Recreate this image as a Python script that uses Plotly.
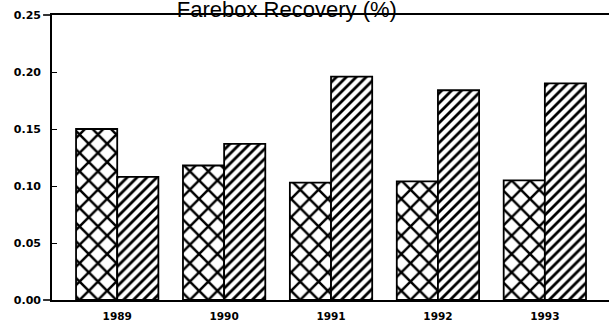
import plotly.graph_objects as go

years = ["1989", "1990", "1991", "1992", "1993"]
series_a = [0.150, 0.118, 0.103, 0.104, 0.105]   # cross-hatched bars
series_b = [0.108, 0.137, 0.196, 0.184, 0.190]   # diagonal-striped bars
y_ticks = [0.00, 0.05, 0.10, 0.15, 0.20, 0.25]
y_tick_text = ["0.00", "0.05", "0.10", "0.15", "0.20", "0.25"]

fig = go.Figure()
fig.add_trace(go.Bar(
    x=years, y=series_a,
    marker=dict(
        color="white",
        line=dict(color="black", width=1.8),
        pattern=dict(shape="x", size=13, solidity=0.35, fgcolor="black",
                     bgcolor="white", fgopacity=1),
    ),
))
fig.add_trace(go.Bar(
    x=years, y=series_b,
    marker=dict(
        color="white",
        line=dict(color="black", width=1.8),
        pattern=dict(shape="/", size=7, solidity=0.4, fgcolor="black",
                     bgcolor="white", fgopacity=1),
    ),
))

# frame lines overhang the value axis slightly on the left
for y_edge in (0, 1):
    fig.add_shape(type="line", xref="paper", yref="paper",
                  x0=-0.016, x1=0, y0=y_edge, y1=y_edge,
                  line=dict(color="black", width=1.6))

fig.update_layout(
    width=609, height=327,
    margin=dict(l=52, r=0, t=15, b=27),
    paper_bgcolor="white", plot_bgcolor="white",
    barmode="group", bargap=0.23, bargroupgap=0,
    showlegend=False,
    title=dict(
        text="Farebox Recovery (%)",
        x=0.471, xanchor="center", y=0.9723, yanchor="middle",
        font=dict(family="Liberation Sans, Arial", size=22, color="black"),
    ),
    font=dict(family="DejaVu Sans", color="black"),
)
fig.update_xaxes(
    range=[-0.61, 4.6],
    showline=True, linecolor="black", linewidth=1.6, mirror=True,
    ticks="", showgrid=False,
    tickfont=dict(family="DejaVu Sans", size=10.5, weight="bold", color="black"),
    ticklabelstandoff=6,
)
fig.update_yaxes(
    range=[0, 0.25],
    tickvals=y_ticks, ticktext=y_tick_text,
    showline=True, linecolor="black", linewidth=1.6, mirror=False,
    ticks="inside", ticklen=5, tickwidth=1.4, tickcolor="black",
    showgrid=False, zeroline=False,
    tickfont=dict(family="DejaVu Sans", size=11, weight="bold", color="black"),
    ticklabelstandoff=7,
)

fig.write_html("out.html")
